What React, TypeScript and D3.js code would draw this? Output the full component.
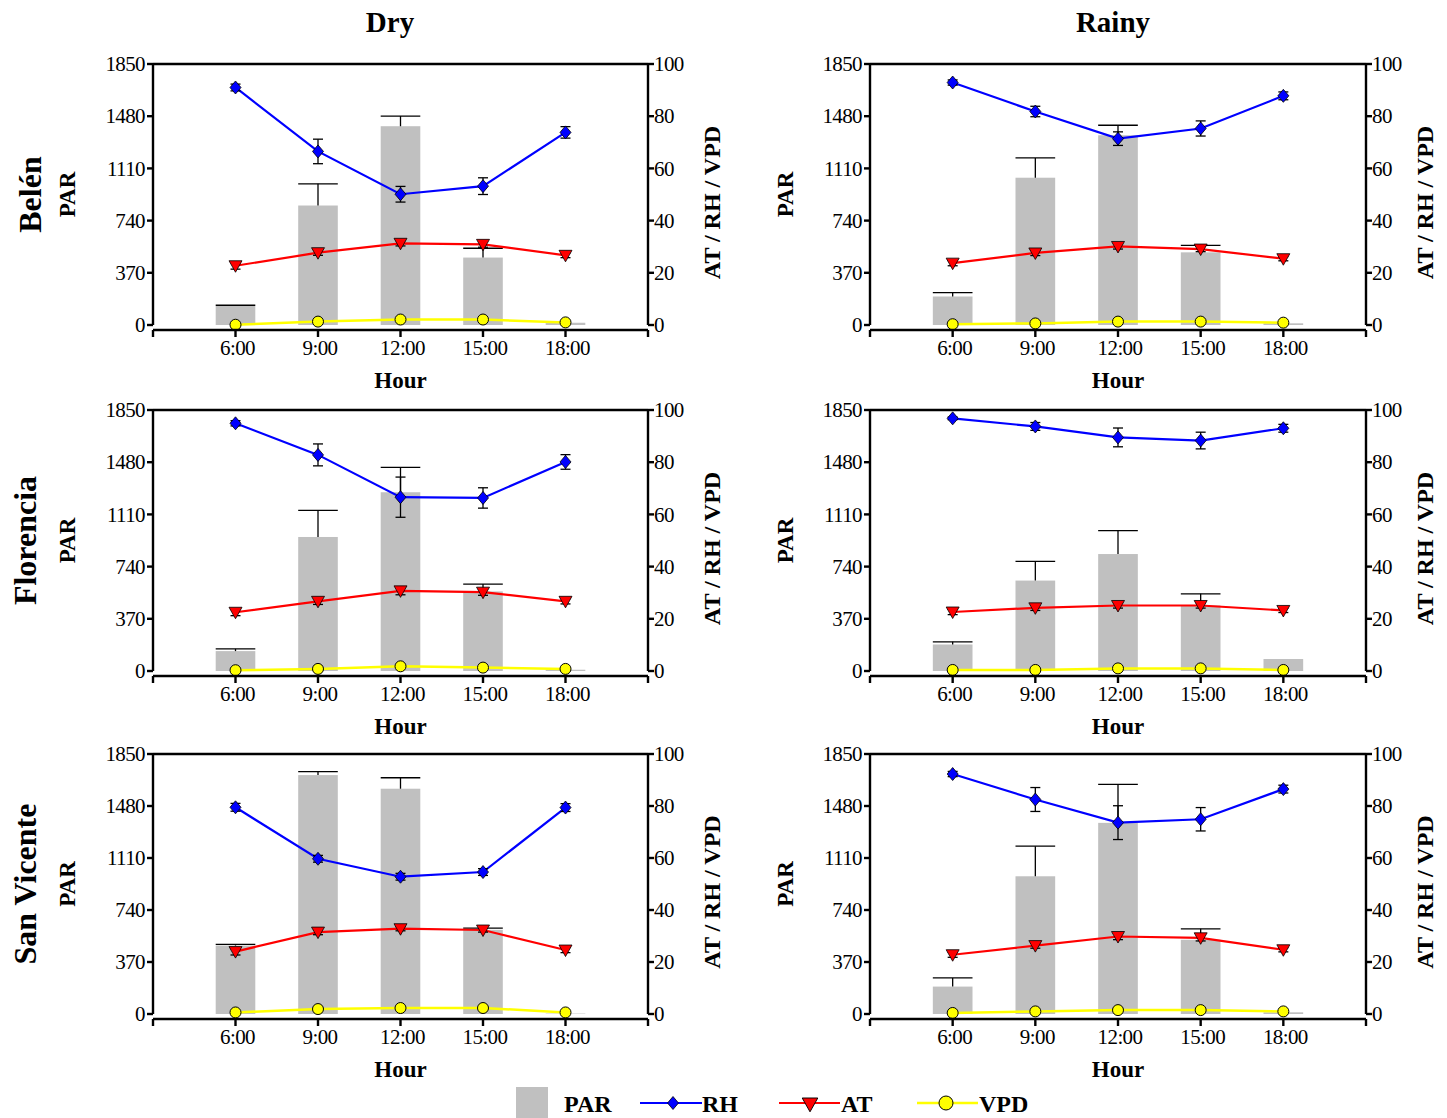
import { useEffect } from "react"
import * as d3 from "d3"

// categories and axis ticks
const hours = ["6:00", "9:00", "12:00", "15:00", "18:00"]
const parTicks = [0, 370, 740, 1110, 1480, 1850]
const rightTicks = [0, 20, 40, 60, 80, 100]

// Belén - dry
const belenDryPAR = [135, 847, 1409, 478, 16]
const belenDryPARErr = [5, 154, 72, 66, 0]
const belenDryRH = [91, 66.5, 50.1, 53.2, 73.8]
const belenDryRHErr = [1.3, 4.7, 3, 3.2, 2.2]
const belenDryAT = [22.7, 27.7, 31.3, 30.9, 26.7]
const belenDryATErr = [1.3, 1, 1, 1.1, 0.9]
const belenDryVPD = [0.1, 1.3, 2.1, 2.1, 1.0]

// Belén - rainy
const belenRainyPAR = [202, 1044, 1345, 515, 12]
const belenRainyPARErr = [28, 140, 71, 50, 0]
const belenRainyRH = [92.9, 81.8, 71.4, 75.3, 87.8]
const belenRainyRHErr = [1, 2, 2.6, 2.9, 1.5]
const belenRainyAT = [23.7, 27.6, 30.1, 29.1, 25.4]
const belenRainyATErr = [1, 1, 1, 1, 0.8]
const belenRainyVPD = [0.3, 0.6, 1.3, 1.3, 0.9]

// Florencia - dry
const florDryPAR = [141, 950, 1267, 564, 9]
const florDryPARErr = [16, 188, 176, 52, 0]
const florDryRH = [94.9, 82.8, 66.6, 66.3, 80.1]
const florDryRHErr = [1, 4.2, 7.7, 3.9, 2.8]
const florDryAT = [22.5, 26.7, 30.7, 30.2, 26.7]
const florDryATErr = [1.3, 1.2, 1.5, 1.2, 1]
const florDryVPD = [0.3, 0.8, 1.8, 1.3, 0.8]

// Florencia - rainy
const florRainyPAR = [188, 641, 829, 465, 85]
const florRainyPARErr = [19, 136, 166, 82, 0]
const florRainyRH = [96.8, 93.7, 89.5, 88.3, 93.0]
const florRainyRHErr = [0.5, 1.5, 3.6, 3.2, 1.5]
const florRainyAT = [22.6, 24.2, 25.1, 25.1, 23.2]
const florRainyATErr = [1, 1, 1, 1, 0.8]
const florRainyVPD = [0.4, 0.4, 1.0, 1.0, 0.4]

// San Vicente - dry
const svDryPAR = [487, 1700, 1603, 599, 3]
const svDryPARErr = [8, 24, 78, 12, 0]
const svDryRH = [79.5, 59.7, 52.8, 54.6, 79.4]
const svDryRHErr = [1.5, 1.3, 1.3, 1.3, 1.5]
const svDryAT = [24.0, 31.5, 32.8, 32.3, 24.6]
const svDryATErr = [1.3, 1, 0.8, 0.8, 1]
const svDryVPD = [0.6, 1.9, 2.3, 2.3, 0.6]

// San Vicente - rainy
const svRainyPAR = [195, 980, 1360, 528, 12]
const svRainyPARErr = [62, 214, 274, 78, 0]
const svRainyRH = [92.3, 82.5, 73.6, 74.9, 86.5]
const svRainyRHErr = [1, 4.6, 6.5, 4.5, 1.5]
const svRainyAT = [22.8, 26.3, 29.8, 29.3, 24.7]
const svRainyATErr = [1, 1, 1.2, 1.2, 0.8]
const svRainyVPD = [0.4, 1.0, 1.5, 1.5, 1.0]

const seasons = ["Dry", "Rainy"]
const sites = ["Belén", "Florencia", "San Vicente"]

const panels = [
  [
    { par: belenDryPAR, parErr: belenDryPARErr, rh: belenDryRH, rhErr: belenDryRHErr, at: belenDryAT, atErr: belenDryATErr, vpd: belenDryVPD },
    { par: belenRainyPAR, parErr: belenRainyPARErr, rh: belenRainyRH, rhErr: belenRainyRHErr, at: belenRainyAT, atErr: belenRainyATErr, vpd: belenRainyVPD },
  ],
  [
    { par: florDryPAR, parErr: florDryPARErr, rh: florDryRH, rhErr: florDryRHErr, at: florDryAT, atErr: florDryATErr, vpd: florDryVPD },
    { par: florRainyPAR, parErr: florRainyPARErr, rh: florRainyRH, rhErr: florRainyRHErr, at: florRainyAT, atErr: florRainyATErr, vpd: florRainyVPD },
  ],
  [
    { par: svDryPAR, parErr: svDryPARErr, rh: svDryRH, rhErr: svDryRHErr, at: svDryAT, atErr: svDryATErr, vpd: svDryVPD },
    { par: svRainyPAR, parErr: svRainyPARErr, rh: svRainyRH, rhErr: svRainyRHErr, at: svRainyAT, atErr: svRainyATErr, vpd: svRainyVPD },
  ],
]

const cols = [
  { left: 153, right: 648, parLabelX: 67, rightLabelX: 712, titleX: 390 },
  { left: 870, right: 1366, parLabelX: 785, rightLabelX: 1425, titleX: 1113 },
]
const rows = [
  { top: 64, bottom: 325, nameX: 30 },
  { top: 410, bottom: 671, nameX: 25 },
  { top: 754, bottom: 1014, nameX: 25 },
]

const FONT = "'Liberation Serif', 'Times New Roman', serif"
const BAR = "#c0c0c0"
const BLUE = "#0000ff"
const RED = "#ff0000"
const YELLOW = "#ffff00"

const diamond = "M0,-6.5L5.5,0L0,6.5L-5.5,0Z"
const triDown = "M-6.5,-5L6.5,-5L0,6.5Z"

const ErrBar = ({ x, y1, y2, w }) => (
  <g stroke="#000" strokeWidth={1.3}>
    <line x1={x} x2={x} y1={y1} y2={y2} />
    <line x1={x - w / 2} x2={x + w / 2} y1={y1} y2={y1} />
    <line x1={x - w / 2} x2={x + w / 2} y1={y2} y2={y2} />
  </g>
)

const Panel = ({ col, row, d }) => {
  const x = d3.scalePoint().domain(hours).range([col.left, col.right]).padding(1)
  const yL = d3.scaleLinear().domain([0, 1850]).range([row.bottom, row.top])
  const yR = d3.scaleLinear().domain([0, 100]).range([row.bottom, row.top])
  const bw = x.step() * 0.48
  const line = (vals) =>
    d3.line<number>().x((_, i) => x(hours[i])).y((v) => yR(v))(vals)
  const xAxisY = row.bottom + 5

  return (
    <g>
      {/* bars */}
      {d.par.map((v, i) => (
        <rect key={"b" + i} x={x(hours[i]) - bw / 2} y={yL(v)} width={bw} height={yL(0) - yL(v)} fill={BAR} />
      ))}
      {d.par.map((v, i) =>
        d.parErr[i] > 0 ? (
          <g key={"be" + i} stroke="#000" strokeWidth={1.3}>
            <line x1={x(hours[i])} x2={x(hours[i])} y1={yL(v)} y2={yL(v + d.parErr[i])} />
            <line x1={x(hours[i]) - bw / 2} x2={x(hours[i]) + bw / 2} y1={yL(v + d.parErr[i])} y2={yL(v + d.parErr[i])} />
          </g>
        ) : null
      )}
      {/* lines */}
      <path d={line(d.vpd)} fill="none" stroke={YELLOW} strokeWidth={2.5} />
      <path d={line(d.at)} fill="none" stroke={RED} strokeWidth={2.2} />
      <path d={line(d.rh)} fill="none" stroke={BLUE} strokeWidth={2.2} />
      {d.rh.map((v, i) => (
        <ErrBar key={"re" + i} x={x(hours[i])} y1={yR(v + d.rhErr[i])} y2={yR(v - d.rhErr[i])} w={10} />
      ))}
      {d.at.map((v, i) => (
        <ErrBar key={"ae" + i} x={x(hours[i])} y1={yR(v + d.atErr[i])} y2={yR(v - d.atErr[i])} w={10} />
      ))}
      {d.rh.map((v, i) => (
        <path key={"rm" + i} d={diamond} transform={`translate(${x(hours[i])},${yR(v)})`} fill={BLUE} stroke="#000" strokeWidth={0.8} />
      ))}
      {d.at.map((v, i) => (
        <path key={"am" + i} d={triDown} transform={`translate(${x(hours[i])},${yR(v)})`} fill={RED} stroke="#000" strokeWidth={0.8} />
      ))}
      {d.vpd.map((v, i) => (
        <circle key={"vm" + i} cx={x(hours[i])} cy={yR(v)} r={5.5} fill={YELLOW} stroke="#000" strokeWidth={1} />
      ))}

      {/* frame / axes */}
      <g stroke="#000" strokeWidth={2.4} fill="none">
        <line x1={col.left} x2={col.right} y1={row.top} y2={row.top} />
        <line x1={col.left} x2={col.left} y1={row.top} y2={row.bottom} />
        <line x1={col.right} x2={col.right} y1={row.top} y2={row.bottom} />
        <line x1={col.left} x2={col.right} y1={xAxisY} y2={xAxisY} />
        {parTicks.map((t) => (
          <line key={"lt" + t} x1={col.left - 6} x2={col.left} y1={yL(t)} y2={yL(t)} />
        ))}
        {rightTicks.map((t) => (
          <line key={"rt" + t} x1={col.right} x2={col.right + 6} y1={yR(t)} y2={yR(t)} />
        ))}
        {[col.left, ...hours.map((h) => x(h)), col.right].map((px, i) => (
          <line key={"xt" + i} x1={px} x2={px} y1={xAxisY} y2={xAxisY + 7} />
        ))}
      </g>
      <g fontFamily={FONT} fontSize={21} fill="#000">
        {parTicks.map((t) => (
          <text key={"ll" + t} x={col.left - 8} y={yL(t)} dy="0.34em" textAnchor="end" letterSpacing={-0.6}>{t}</text>
        ))}
        {rightTicks.map((t) => (
          <text key={"rl" + t} x={col.right + 6} y={yR(t)} dy="0.34em" textAnchor="start" letterSpacing={-0.6}>{t}</text>
        ))}
        {hours.map((h) => (
          <text key={"xl" + h} x={x(h) + 2} y={row.bottom + 30} textAnchor="middle" letterSpacing={-0.6}>{h}</text>
        ))}
      </g>
      <g fontFamily={FONT} fontWeight="bold" fill="#000">
        <text x={(col.left + col.right) / 2} y={row.bottom + 63} fontSize={23} textAnchor="middle">Hour</text>
        <text transform={`translate(${col.parLabelX},${(row.top + row.bottom) / 2}) rotate(-90)`} fontSize={23} textAnchor="middle" dy="0.35em">PAR</text>
        <text transform={`translate(${col.rightLabelX},${(row.top + row.bottom) / 2 + 8}) rotate(-90)`} fontSize={24} textAnchor="middle" dy="0.35em">AT / RH / VPD</text>
      </g>
    </g>
  )
}

export default function App() {
  useEffect(() => {
    document.body.style.margin = "0"
  }, [])

  return (
    <svg width={1447} height={1118} style={{ display: "block", background: "#fff" }}>
      {panels.map((r, ri) =>
        r.map((d, ci) => <Panel key={ri + "-" + ci} col={cols[ci]} row={rows[ri]} d={d} />)
      )}
      <g fontFamily={FONT} fontWeight="bold" fill="#000">
        {seasons.map((s, i) => (
          <text key={s} x={cols[i].titleX} y={32} fontSize={29} textAnchor="middle">{s}</text>
        ))}
        {sites.map((s, i) => (
          <text key={s} transform={`translate(${rows[i].nameX},${(rows[i].top + rows[i].bottom) / 2}) rotate(-90)`} fontSize={32} textAnchor="middle" dy="0.35em">{s}</text>
        ))}
      </g>
      {/* legend */}
      <g fontFamily={FONT} fontWeight="bold" fontSize={24} fill="#000">
        <rect x={516} y={1087} width={32} height={31} fill={BAR} />
        <text x={564} y={1112}>PAR</text>
        <line x1={640} x2={702} y1={1103} y2={1103} stroke={BLUE} strokeWidth={2.2} />
        <path d={diamond} transform="translate(673,1103)" fill={BLUE} stroke="#000" strokeWidth={0.8} />
        <text x={702} y={1112}>RH</text>
        <line x1={779} x2={840} y1={1103} y2={1103} stroke={RED} strokeWidth={2.2} />
        <path d={triDown} transform="translate(810,1104) scale(1.2)" fill={RED} stroke="#000" strokeWidth={0.8} />
        <text x={841} y={1112}>AT</text>
        <line x1={917} x2={978} y1={1103} y2={1103} stroke={YELLOW} strokeWidth={2.5} />
        <circle cx={946} cy={1103} r={7} fill={YELLOW} stroke="#000" strokeWidth={1} />
        <text x={979} y={1112}>VPD</text>
      </g>
    </svg>
  )
}
